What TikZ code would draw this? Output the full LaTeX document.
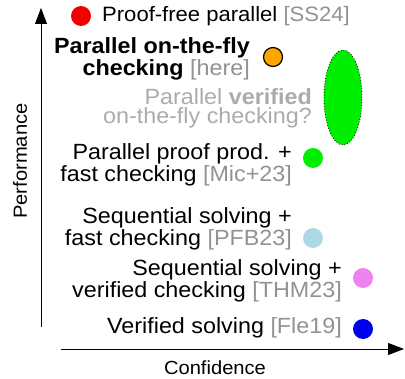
\documentclass[tikz,border=0pt]{standalone}
\usepackage{fontspec}
\setmainfont{Liberation Sans}[FakeStretch=1.06]
\usetikzlibrary{arrows.meta,shapes.geometric}
\definecolor{cite}{HTML}{929292}
\definecolor{futgray}{HTML}{ABABAB}
\definecolor{dotred}{HTML}{F20000}
\definecolor{dotorange}{HTML}{FFA500}
\definecolor{dotgreen}{HTML}{00EE00}
\definecolor{dotblue}{HTML}{ADD8E6}
\definecolor{dotviolet}{HTML}{EE82EE}
\definecolor{dotdblue}{HTML}{0000F0}
\tikzset{
  lbl/.style={align=right, anchor=east, inner sep=0pt, font=\fontsize{22}{18.5}\selectfont},
  dot/.style={circle, minimum size=20pt, inner sep=0pt},
  axis/.style={-{Triangle[length=16pt,width=12pt]}, line width=0.8pt},
  axlab/.style={font=\fontsize{19}{19}\selectfont, inner sep=0pt},
}
\newcommand{\cit}[1]{\textcolor{cite}{[#1]}}
\begin{document}
\begin{tikzpicture}[x=1pt,y=-1pt]
\useasboundingbox (0,0) rectangle (405,379);
% axes
\coordinate (yb) at (41,327);
\coordinate (yt) at (41,8);
\coordinate (xl) at (61,349);
\coordinate (xr) at (404,349);
\draw[axis] (yb) -- (yt);
\draw[axis] (xl) -- (xr);
\node[axlab] (xlab) at (215,368) {Confidence};
\node[axlab, rotate=90] (ylab) at (20,161) {Performance};
% dots
\node[dot, fill=dotred] (d1) at (81,16) {};
\node[dot, fill=dotorange, draw=black, line width=1.2pt, minimum size=19pt] (d2) at (273,57) {};
\node[ellipse, fill=dotgreen, draw=black, dotted, line width=0.8pt, minimum width=38pt, minimum height=95pt, inner sep=0pt] (d3) at (343,97.5) {};
\node[dot, fill=dotgreen] (d4) at (313,158) {};
\node[dot, fill=dotblue] (d5) at (313,238) {};
\node[dot, fill=dotviolet] (d6) at (363,278) {};
\node[dot, fill=dotdblue] (d7) at (363,329) {};
% labels
\node[lbl, anchor=west, font=\fontsize{20.8}{18.5}\selectfont] (t1) at (102,16) {Proof-free parallel \cit{SS24}};
\node[lbl] (t2) at (250,59) {\textbf{Parallel on-the-fly}\\\textbf{checking} \cit{here}};
\node[lbl, text=futgray] (t3) at (312,108.5) {Parallel \textbf{verified}\\on-the-fly checking?};
\node[lbl] (t4) at (292,165) {Parallel proof prod. +\\fast checking \cit{Mic+23}};
\node[lbl] (t5) at (292,229) {Sequential solving +\\fast checking \cit{PFB23}};
\node[lbl] (t6) at (342,281) {Sequential solving +\\verified checking \cit{THM23}};
\node[lbl] (t7) at (342,328) {Verified solving \cit{Fle19}};
\end{tikzpicture}
\end{document}
